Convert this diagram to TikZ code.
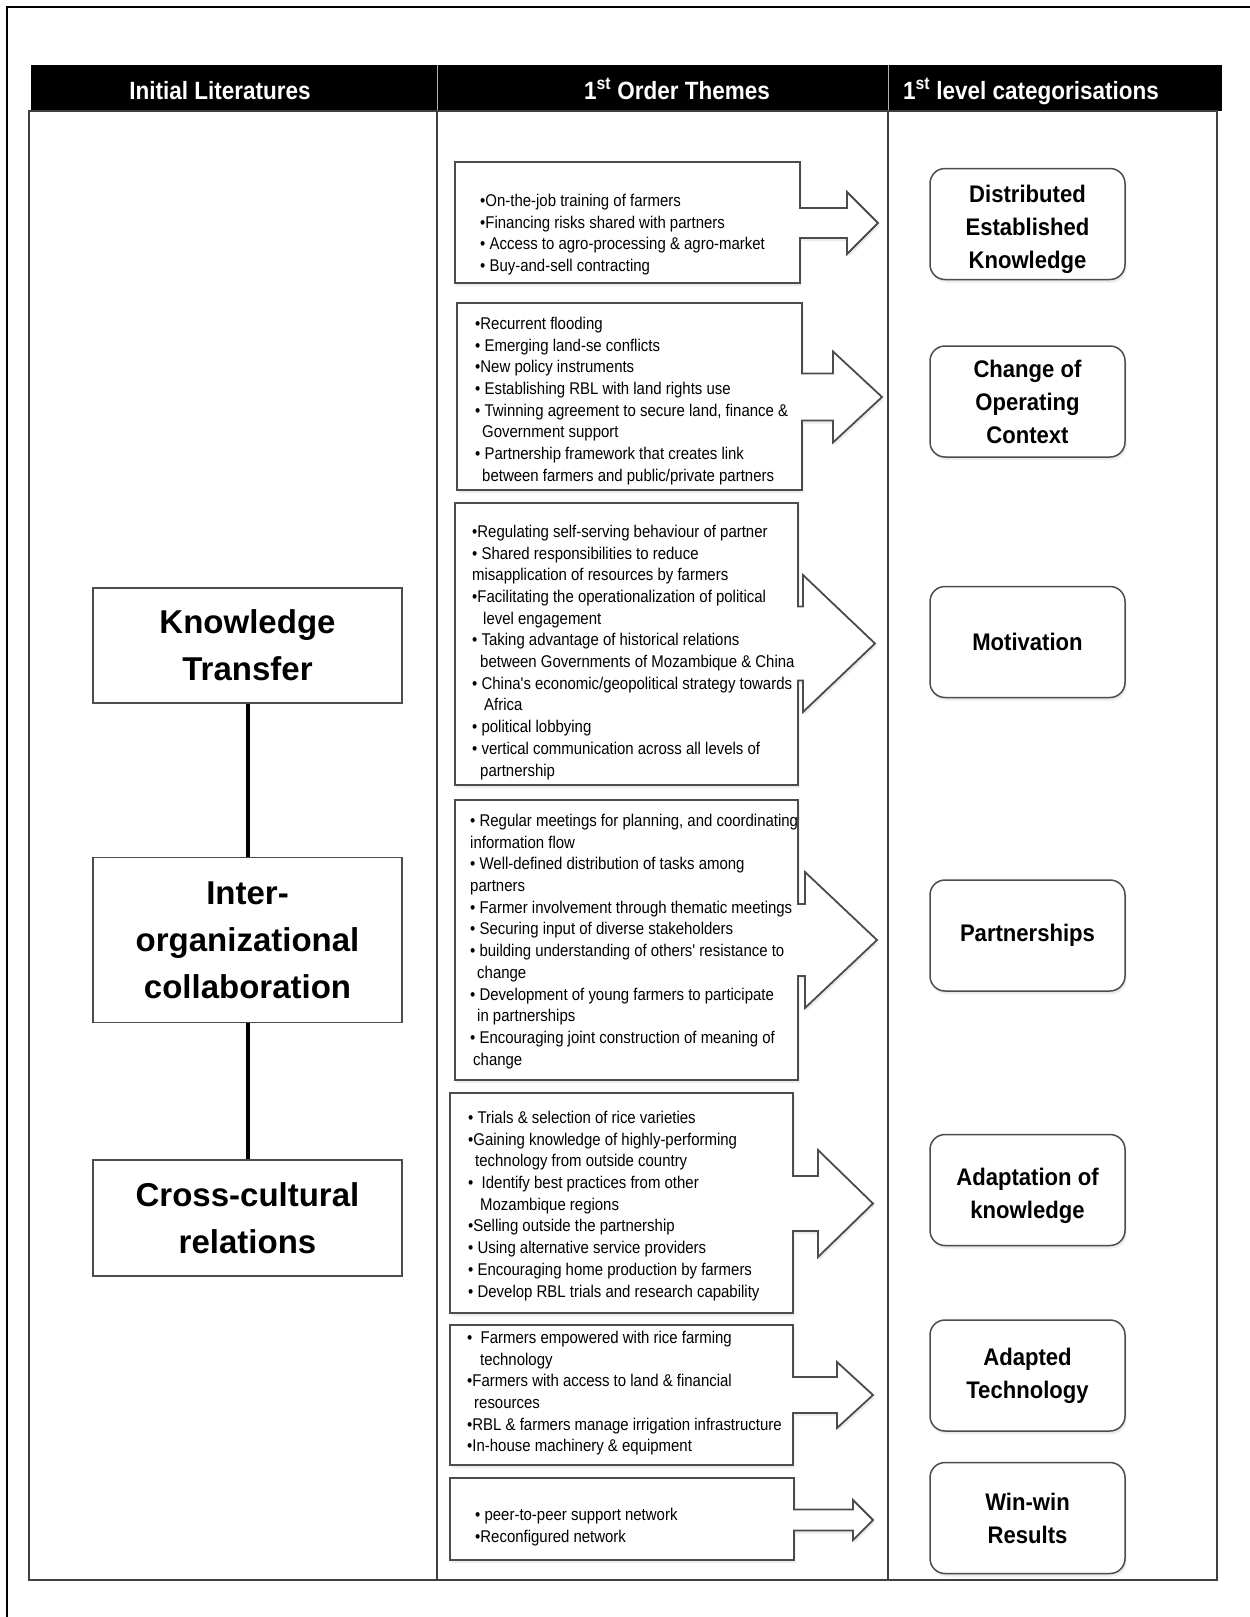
\documentclass[tikz,border=0pt]{standalone}
\usepackage{fontspec}
\setmainfont{Liberation Sans}
\newfontfamily\headfont[FakeStretch=0.9]{Liberation Sans}
\newfontfamily\catfont[FakeStretch=0.92]{Liberation Sans}
\newfontfamily\themefont[FakeStretch=0.88]{Liberation Sans}
\usetikzlibrary{positioning,shadows}

\begin{document}
\begin{tikzpicture}[
        x=1pt, y=-1pt,
        every node/.style={inner sep=0pt},
        frame/.style   ={line width=1.5pt, black},
        grid/.style    ={line width=2pt, black!75},
        header/.style  ={anchor=base, text=white, font=\headfont\bfseries\fontsize{25}{30}\selectfont},
        lit/.style     ={draw=black!70, line width=1.5pt, fill=white, align=center, minimum width=309pt,
                         font=\bfseries\fontsize{33}{47}\selectfont},
        link/.style    ={line width=4pt, black},
        themebox/.style={draw=black!70, line width=1.8pt, fill=white, line join=miter,
                         drop shadow={opacity=0.15, shadow xshift=1.5pt, shadow yshift=-3pt}},
        themetxt/.style={anchor=north west, align=left, font=\themefont\fontsize{17}{21.7}\selectfont},
        cat/.style     ={draw=black!70, line width=1.5pt, fill=white, rounded corners=15pt, align=center,
                         minimum width=195pt, minimum height=111pt,
                         font=\catfont\bfseries\fontsize{24}{33}\selectfont,
                         drop shadow={opacity=0.15, shadow xshift=1.5pt, shadow yshift=-3pt}},
    ]
        \useasboundingbox (0,0) rectangle (1250,1617);
        \fill[white] (0,0) rectangle (1250,1617);
        \draw[frame] (7,1617) -- (7,7) -- (1250,7);

        % --- Table ---
        \fill[black] (31,65) rectangle (1222,111);
        \draw[white!70!black, line width=1pt] (437,65) -- (437,111) (888,65) -- (888,111);
        \draw[grid] (29,111) rectangle (1217,1580);
        \draw[grid] (437,111) -- (437,1580);
        \draw[grid] (888,111) -- (888,1580);
        \node[header] (h1) at (220,99) {Initial Literatures};
        \node[header] (h2) at (677,99) {1\textsuperscript{st} Order Themes};
        \node[header] (h3) at (1031,99) {1\textsuperscript{st} level categorisations};

        % --- Initial literatures ---
        \node[lit, minimum height=115pt] (kt) at (247.5,645.5) {Knowledge\\Transfer};
        \node[lit, minimum height=165pt, below=153pt of kt] (ioc) {Inter-\\organizational\\collaboration};
        \node[lit, minimum height=116pt, below=136pt of ioc] (ccr) {Cross-cultural\\relations};
        \draw[link] (kt) -- (ioc);
        \draw[link] (ioc) -- (ccr);

        % --- 1st order themes ---
        \draw[themebox] (455,162) -- (800,162) -- (800,208) -- (847,208) -- (847,192) -- (878,223)
            -- (847,254) -- (847,238) -- (800,238) -- (800,283) -- (455,283) -- cycle;
        \draw[themebox] (457,303) -- (802,303) -- (802,373.5) -- (833,373.5) -- (833,351.5) -- (882,397)
            -- (833,442.5) -- (833,420.5) -- (802,420.5) -- (802,490) -- (457,490) -- cycle;
        \draw[themebox] (455,503) -- (798,503) -- (798,606.5) -- (803,606.5) -- (803,575) -- (875,643.5)
            -- (803,712) -- (803,680.5) -- (798,680.5) -- (798,785) -- (455,785) -- cycle;
        \draw[themebox] (455,800) -- (798,800) -- (798,904) -- (805,904) -- (805,872) -- (877,940)
            -- (805,1008) -- (805,976) -- (798,976) -- (798,1080) -- (455,1080) -- cycle;
        \draw[themebox] (450,1093) -- (793,1093) -- (793,1176) -- (818,1176) -- (818,1150) -- (873,1203.5)
            -- (818,1257) -- (818,1231) -- (793,1231) -- (793,1313) -- (450,1313) -- cycle;
        \draw[themebox] (450,1325) -- (793,1325) -- (793,1377) -- (837,1377) -- (837,1362) -- (873,1395)
            -- (837,1428) -- (837,1413) -- (793,1413) -- (793,1465) -- (450,1465) -- cycle;
        \draw[themebox] (450,1478) -- (794,1478) -- (794,1509.5) -- (853,1509.5) -- (853,1500) -- (873,1520)
            -- (853,1540) -- (853,1530.5) -- (794,1530.5) -- (794,1560) -- (450,1560) -- cycle;

        \node[themetxt] (t1) at (480,191) {\strut•On-the-job training of farmers\\•Financing risks shared with partners\\• Access to agro-processing \& agro-market\\• Buy-and-sell contracting};
        \node[themetxt] (t2) at (475,314) {\strut•Recurrent flooding\\• Emerging land-se conflicts\\•New policy instruments\\• Establishing RBL with land rights use\\• Twinning agreement to secure land, finance \&\\\hspace*{7pt}Government support\\• Partnership framework that creates link\\\hspace*{7pt}between farmers and public/private partners};
        \node[themetxt] (t3) at (472,522) {\strut•Regulating self-serving behaviour of partner\\• Shared responsibilities to reduce\\misapplication of resources by farmers\\•Facilitating the operationalization of political\\\hspace*{11pt}level engagement\\• Taking advantage of historical relations\\\hspace*{8pt}between Governments of Mozambique \& China\\• China's economic/geopolitical strategy towards\\\hspace*{12pt}Africa\\• political lobbying\\• vertical communication across all levels of\\\hspace*{8pt}partnership};
        \node[themetxt] (t4) at (470,811) {\strut• Regular meetings for planning, and coordinating\\information flow\\• Well-defined distribution of tasks among\\partners\\• Farmer involvement through thematic meetings\\• Securing input of diverse stakeholders\\• building understanding of others' resistance to\\\hspace*{7pt}change\\• Development of young farmers to participate\\\hspace*{7pt}in partnerships\\• Encouraging joint construction of meaning of\\\hspace*{3pt}change};
        \node[themetxt] (t5) at (468,1108) {\strut• Trials \& selection of rice varieties\\•Gaining knowledge of highly-performing\\\hspace*{7pt}technology from outside country\\•\ \ Identify best practices from other\\\hspace*{12pt}Mozambique regions\\•Selling outside the partnership\\• Using alternative service providers\\• Encouraging home production by farmers\\• Develop RBL trials and research capability};
        \node[themetxt] (t6) at (467,1328) {\strut•\ \ Farmers empowered with rice farming\\\hspace*{13pt}technology\\•Farmers with access to land \& financial\\\hspace*{7pt}resources\\•RBL \& farmers manage irrigation infrastructure\\•In-house machinery \& equipment};
        \node[themetxt] (t7) at (475,1505) {\strut• peer-to-peer support network\\•Reconfigured network};

        % --- 1st level categorisations ---
        \node[cat] (c1) at (1027.5,224) {\rule{0pt}{28pt}Distributed\\Established\\Knowledge};
        \node[cat, below=65pt of c1] (c2) {Change of\\Operating\\Context};
        \node[cat, below=128pt of c2] (c3) {Motivation};
        \node[cat, below=181pt of c3] (c4) {Partnerships};
        \node[cat, below=142pt of c4] (c5) {\rule{0pt}{29pt}Adaptation of\\knowledge};
        \node[cat, below=73pt of c5] (c6) {Adapted\\Technology};
        \node[cat, below=30pt of c6] (c7) {Win-win\\Results};
    \end{tikzpicture}
\end{document}
